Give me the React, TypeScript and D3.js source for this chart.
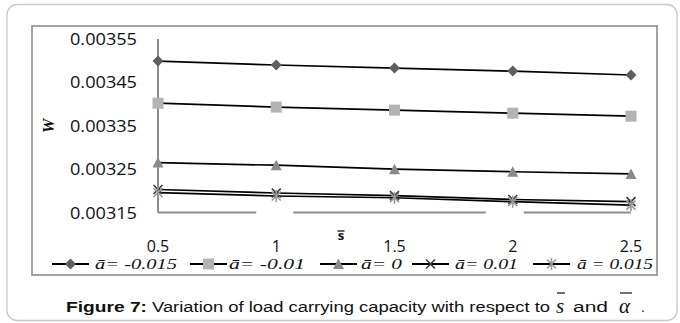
import React from "react";
import * as d3 from "d3";

const sValues = [0.5, 1, 1.5, 2, 2.5];
const seriesNames = ["ā= -0.015", "ā= -0.01", "ā= 0", "ā= 0.01", "ā = 0.015"];
const wNeg015 = [0.003499, 0.00349, 0.003483, 0.003476, 0.003467];
const wNeg010 = [0.003402, 0.003393, 0.003386, 0.003379, 0.003372];
const wZero = [0.003265, 0.003259, 0.00325, 0.003244, 0.003239];
const wPos010 = [0.003203, 0.003195, 0.003189, 0.00318, 0.003175];
const wPos015 = [0.003196, 0.003188, 0.003184, 0.003175, 0.003167];
const yTicks = [0.00315, 0.00325, 0.00335, 0.00345, 0.00355];
const xTicks = [0.5, 1, 1.5, 2, 2.5];

const allSeries = [wNeg015, wNeg010, wZero, wPos010, wPos015];
const markerKinds = ["diamond", "square", "triangle", "x", "star"];

function Marker({ kind, cx, cy }: { kind: string; cx: number; cy: number }) {
  const t = `translate(${cx},${cy})`;
  if (kind === "diamond")
    return <path transform={t} d="M0,-5.5L5.5,0L0,5.5L-5.5,0Z" fill="#5f5f5f" />;
  if (kind === "square")
    return <rect transform={t} x={-5.5} y={-5.5} width={11} height={11} fill="#b3b3b3" />;
  if (kind === "triangle")
    return <path transform={t} d="M0,-5.5L5.5,5L-5.5,5Z" fill="#8a8a8a" />;
  if (kind === "x")
    return (
      <path transform={t} d="M-4.5,-4.5L4.5,4.5M-4.5,4.5L4.5,-4.5" stroke="#3a3a3a" strokeWidth={1.6} fill="none" />
    );
  return (
    <path
      transform={t}
      d="M-4.5,-4.5L4.5,4.5M-4.5,4.5L4.5,-4.5M0,-6L0,6"
      stroke="#9a9a9a"
      strokeWidth={1.6}
      fill="none"
    />
  );
}

export default function App() {
  const x = d3.scaleLinear().domain([0.5, 2.5]).range([158, 631]);
  const y = d3.scaleLinear().domain([0.00315, 0.00355]).range([212.5, 39]);
  const line = d3
    .line<number>()
    .x((_, i) => x(sValues[i]))
    .y((d) => y(d));

  const axisY = y(0.00315);
  const axisSegs: [number, number][] = [
    [x(0.5), x(1) - 20],
    [x(1) + 17, x(2) - 27],
    [x(2) + 11, x(2.5)],
  ];

  const legendItems = [
    { lx: 52, tx: 95, tl: 82 },
    { lx: 190, tx: 229, tl: 76 },
    { lx: 320, tx: 361, tl: 41 },
    { lx: 412, tx: 455, tl: 63 },
    { lx: 533, tx: 577, tl: 76 },
  ];
  const legendY = 264;

  return (
    <svg
      width={680}
      height={323}
      style={{ position: "absolute", left: 0, top: 0, background: "#fff" }}
    >
      <rect x={7} y={4.5} width={670} height={316} rx={10} fill="#fff" stroke="#c8c8c8" strokeWidth={1.3} />
      <rect x={32} y={26} width={625} height={249} fill="#fff" stroke="#8c8c8c" strokeWidth={1.6} />

      {/* axes */}
      <line x1={x(0.5)} x2={x(0.5)} y1={y(0.00355)} y2={axisY} stroke="#8c8c8c" strokeWidth={2} />
      {axisSegs.map(([a, b], i) => (
        <line key={i} x1={a} x2={b} y1={axisY} y2={axisY} stroke="#8c8c8c" strokeWidth={2} />
      ))}

      {yTicks.map((t) => (
        <text
          key={t}
          x={70}
          y={y(t) + 6}
          fontFamily="'Open Sans', 'Liberation Sans', sans-serif"
          fontSize={16.5}
          textLength={67}
          lengthAdjust="spacingAndGlyphs"
          fill="#111"
        >
          {t.toFixed(5)}
        </text>
      ))}
      {xTicks.map((t) => (
        <text
          key={t}
          x={x(t)}
          y={252}
          textAnchor="middle"
          fontFamily="'Open Sans', 'Liberation Sans', sans-serif"
          fontSize={16}
          fill="#111"
        >
          {String(t)}
        </text>
      ))}

      {/* axis titles */}
      <text
        transform={`translate(54,126) rotate(-90)`}
        textAnchor="middle"
        fontFamily="'Liberation Serif', serif"
        fontStyle="italic"
        fontWeight="bold"
        fontSize={16}
        fill="#111"
      >
        W
      </text>
      <text
        x={341}
        y={240}
        textAnchor="middle"
        fontFamily="'Open Sans', 'Liberation Sans', sans-serif"
        fontWeight="bold"
        fontSize={13}
        fill="#111"
      >
        s
      </text>
      <line x1={337.5} x2={344.5} y1={231} y2={231} stroke="#111" strokeWidth={1.3} />

      {/* series */}
      {allSeries.map((s, i) => (
        <path key={i} d={line(s) || ""} fill="none" stroke="#000" strokeWidth={1.7} />
      ))}
      {allSeries.map((s, i) =>
        s.map((v, j) => <Marker key={`${i}-${j}`} kind={markerKinds[i]} cx={x(sValues[j])} cy={y(v)} />)
      )}

      {/* legend */}
      {legendItems.map((it, i) => (
        <g key={i}>
          <line x1={it.lx} x2={it.lx + 37} y1={legendY} y2={legendY} stroke="#000" strokeWidth={2} />
          <Marker kind={markerKinds[i]} cx={it.lx + 18.5} cy={legendY} />
          <text
            x={it.tx}
            y={268.5}
            fontFamily="'Liberation Serif', serif"
            fontStyle="italic"
            fontSize={15}
            textLength={it.tl}
            lengthAdjust="spacingAndGlyphs"
            fill="#111"
          >
            {seriesNames[i]}
          </text>
        </g>
      ))}

      {/* caption */}
      <text
        x={66}
        y={312}
        fontFamily="'Liberation Sans', Arial, sans-serif"
        fontWeight="bold"
        fontSize={14}
        textLength={81}
        lengthAdjust="spacingAndGlyphs"
        fill="#111"
      >
        Figure 7:
      </text>
      <text
        x={152}
        y={312}
        fontFamily="'Liberation Sans', Arial, sans-serif"
        fontSize={14}
        textLength={398}
        lengthAdjust="spacingAndGlyphs"
        fill="#111"
      >
        Variation of load carrying capacity with respect to
      </text>
      <text x={556} y={313} fontFamily="'Liberation Serif', serif" fontStyle="italic" fontSize={21} fill="#111">
        s
      </text>
      <line x1={557} x2={565} y1={293} y2={293} stroke="#111" strokeWidth={1.2} />
      <text x={573} y={312} fontFamily="'Liberation Sans', Arial, sans-serif" fontSize={14} textLength={35} lengthAdjust="spacingAndGlyphs" fill="#111">
        and
      </text>
      <text x={619} y={313} fontFamily="'Liberation Serif', serif" fontStyle="italic" fontSize={21} fill="#111">
        α
      </text>
      <line x1={620} x2={632} y1={293} y2={293} stroke="#111" strokeWidth={1.2} />
      <text x={641} y={312} fontFamily="'Liberation Sans', Arial, sans-serif" fontSize={14} fill="#111">
        .
      </text>
    </svg>
  );
}
